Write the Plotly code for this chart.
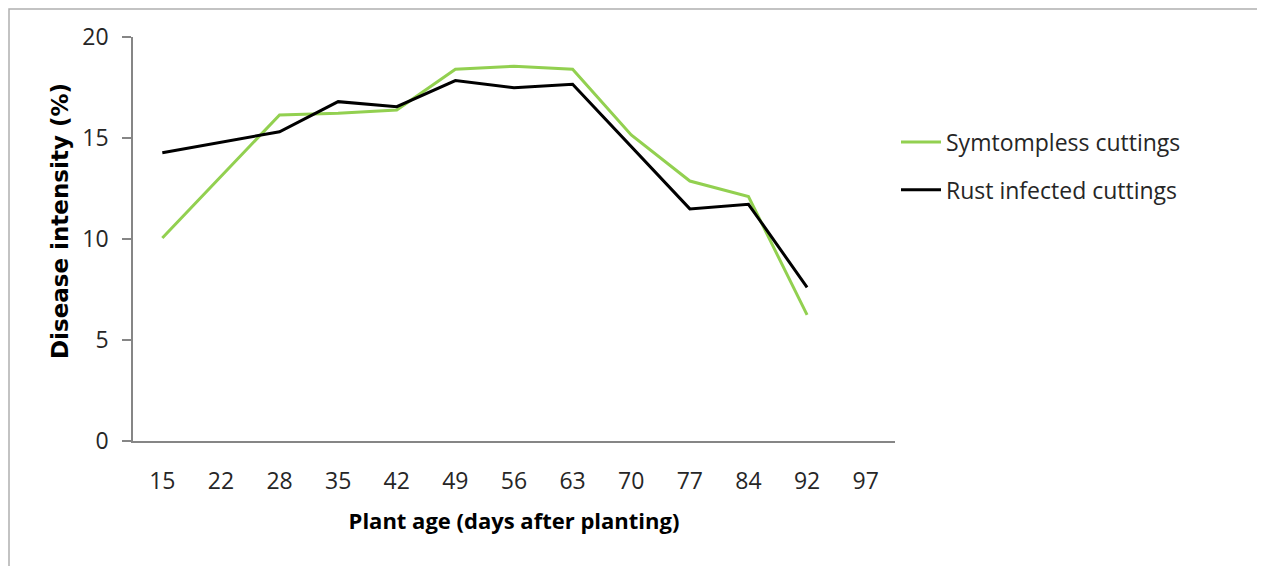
import plotly.graph_objects as go

categories = ["15", "22", "28", "35", "42", "49", "56", "63", "70", "77", "84", "92", "97"]
symptomless = [10.05, 13.1, 16.14, 16.22, 16.39, 18.4, 18.55, 18.4, 15.15, 12.87, 12.1, 6.24, None]
rust_infected = [14.27, 14.8, 15.31, 16.8, 16.55, 17.84, 17.49, 17.66, 14.55, 11.49, 11.72, 7.61, None]
series_names = ["Symtompless cuttings", "Rust infected cuttings"]

FONT = "Open Sans, Lato, sans-serif"
AXIS_COLOR = "#868686"

# page body has an 8px margin; compensate so plot area lands at x 133..895, y 37..441
L, T, PW, PH = 125, 29, 762, 404

fig = go.Figure()
fig.add_trace(go.Scatter(x=categories, y=symptomless, mode="lines", name=series_names[0],
                         line=dict(color="#92D050", width=3), legendgroup="a"))
fig.add_trace(go.Scatter(x=categories, y=rust_infected, mode="lines", name=series_names[1],
                         line=dict(color="#000000", width=3), legendgroup="b"))

def px_x(p):
    return (p - 133) / PW

def px_y(p):
    return (441 - p) / PH

fig.update_layout(
    width=1265, height=566,
    margin=dict(l=L, r=1265 - L - PW, t=T, b=566 - T - PH, autoexpand=False),
    paper_bgcolor="white", plot_bgcolor="white",
    font=dict(family=FONT, size=23, color="#262626"),
    showlegend=True,
    legend=dict(x=px_x(896), y=px_y(166), xanchor="left", yanchor="middle",
                font=dict(family=FONT, size=23, color="#262626"),
                tracegroupgap=15, traceorder="grouped", bgcolor="rgba(0,0,0,0)",
                itemwidth=40),
    xaxis=dict(
        type="category", categoryorder="array", categoryarray=categories,
        range=[-0.5, len(categories) - 0.5],
        showline=True, linecolor=AXIS_COLOR, linewidth=1.5,
        showgrid=False, zeroline=False, ticks="", ticklabelstandoff=19,
        tickfont=dict(family=FONT, size=23, color="#262626"),
        title=dict(text="<b>Plant age (days after planting)</b>",
                   font=dict(family=FONT, size=22, color="#000000"), standoff=18),
    ),
    yaxis=dict(
        range=[0, 20], tickvals=[0, 5, 10, 15, 20],
        showline=True, linecolor=AXIS_COLOR, linewidth=1.5,
        showgrid=False, zeroline=False,
        ticks="outside", ticklen=9, tickcolor=AXIS_COLOR, tickwidth=1.5,
        ticklabelstandoff=9,
        tickfont=dict(family=FONT, size=23, color="#262626"),
    ),
    annotations=[dict(text="<b>Disease intensity (%)</b>", textangle=-90,
                      xref="paper", yref="paper", x=px_x(60), y=px_y(221),
                      xanchor="center", yanchor="middle", showarrow=False,
                      font=dict(family="DejaVu Sans, sans-serif", size=23, color="#000000"))],
    shapes=[dict(type="rect", xref="paper", yref="paper",
                 x0=px_x(9), x1=px_x(1259),
                 y0=px_y(580), y1=px_y(9),
                 line=dict(color="#b0b0b0", width=1.5), fillcolor="rgba(0,0,0,0)", layer="below")],
)

fig.write_html("out.html")
